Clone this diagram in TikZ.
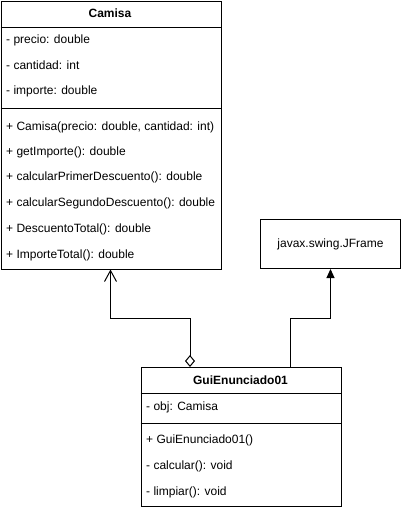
\documentclass[tikz,border=0pt]{standalone}
\usepackage{fontspec}
\setmainfont{Liberation Sans}
\usetikzlibrary{arrows.meta}
\tikzset{
  classbox/.style={draw, line width=1pt, anchor=north west, inner sep=0pt},
  member/.style={anchor=west, inner sep=0pt, font=\fontsize{12}{14}\selectfont},
  title/.style={inner sep=0pt, font=\fontsize{12}{14}\selectfont\bfseries},
  sep/.style={line width=1pt},
  link/.style={line width=1pt},
}

\begin{document}
\begin{tikzpicture}[x=1pt, y=-1pt]
\useasboundingbox (0,0) rectangle (401,509);
% boxes
\node[classbox, minimum width=220pt, minimum height=268pt] (camisa) at (0.5,0.5) {};
\node[classbox, minimum width=140pt, minimum height=49pt] (jframe) at (260,219) {};
\node[classbox, minimum width=200pt, minimum height=139pt] (gui) at (140.5,367) {};
% Camisa
\node[title] (camisaname) at (110,13) {Camisa};
\draw[sep] (camisa.west |- 0,27) -- (camisa.east |- 0,27);
\node[member] (precio) at (6,40) {- precio: double};
\node[member] (cantidad) at (6,65) {- cantidad: int};
\node[member] (importe) at (6,91) {- importe: double};
\draw[sep] (camisa.west |- 0,108) -- (camisa.east |- 0,108);
\node[member] (ctor) at (6,127) {+ Camisa(precio: double, cantidad: int)};
\node[member] (getimporte) at (6,152) {+ getImporte(): double};
\node[member] (primero) at (6,177) {+ calcularPrimerDescuento(): double};
\node[member] (segundo) at (6,203) {+ calcularSegundoDescuento(): double};
\node[member] (descuento) at (6,229) {+ DescuentoTotal(): double};
\node[member] (importetotal) at (6,255) {+ ImporteTotal(): double};
% JFrame
\node[member, anchor=center] (jframename) at (jframe.center) {javax.swing.JFrame};
% GuiEnunciado01
\node[title] (guiname) at (240.5,380) {GuiEnunciado01};
\draw[sep] (gui.west |- 0,393) -- (gui.east |- 0,393);
\node[member] (obj) at (146,407) {- obj: Camisa};
\draw[sep] (gui.west |- 0,423) -- (gui.east |- 0,423);
\node[member] (guictor) at (146,440) {+ GuiEnunciado01()};
\node[member] (calcular) at (146,466) {- calcular(): void};
\node[member] (limpiar) at (146,492) {- limpiar(): void};
% connectors
\draw[link, {Diamond[open, length=12pt, width=10pt]}-{Straight Barb[length=11pt, width=12pt]}]
  ([xshift=49.5pt]gui.north west) -- ++(0,-49) -| ([xshift=110pt]camisa.south west);
\draw[link, -{Triangle[length=9pt, width=8pt]}]
  ([xshift=149.5pt]gui.north west) -- ++(0,-49) -| (jframe.south);
\end{tikzpicture}
\end{document}
